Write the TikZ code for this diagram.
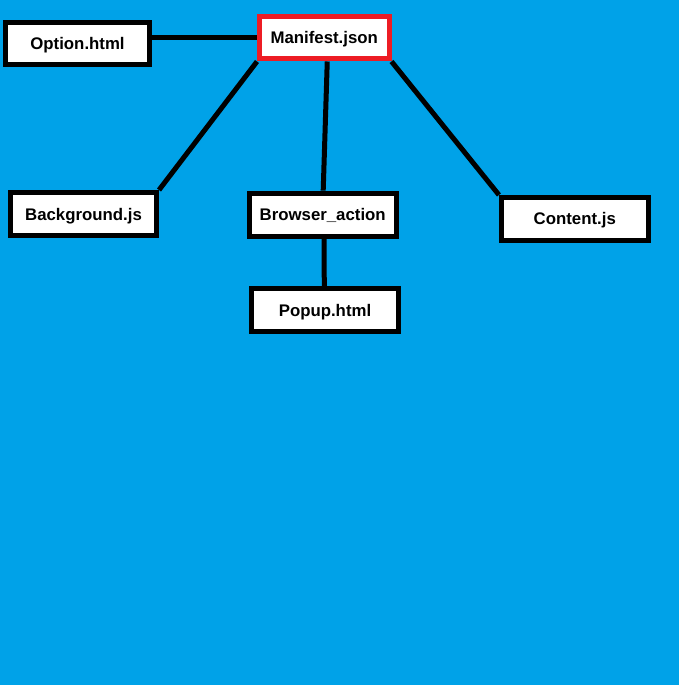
\documentclass[tikz,border=0pt]{standalone}
\usepackage{fontspec}
\setmainfont{Liberation Sans}
\usetikzlibrary{backgrounds}
\definecolor{bgblue}{HTML}{00A2E8}
\definecolor{paintred}{HTML}{ED1C24}
\tikzset{
  filebox/.style={draw=black, fill=white, line width=5pt, inner sep=0pt,
    text height=12pt, text depth=0pt,
    font=\fontsize{16.8}{18}\selectfont\bfseries},
  link/.style={draw=black, line width=5pt}
}
\begin{document}
\begin{tikzpicture}[x=1pt,y=-1pt]
\useasboundingbox (0,0) rectangle (679,685);
\node[filebox, minimum width=144pt, minimum height=42.5pt] (opt) at (77.5,43.75) {Option.html};
\node[filebox, draw=paintred, minimum width=129.5pt, minimum height=42.5pt] (man) at (324.25,37.75) {Manifest.json};
\node[filebox, minimum width=146pt, minimum height=43pt] (bg) at (83.5,214) {Background.js};
\node[filebox, minimum width=147pt, minimum height=43.3pt] (br) at (322.7,214.8) {Browser\_action};
\node[filebox, minimum width=147pt, minimum height=43pt] (pop) at (325,310) {Popup.html};
\node[filebox, minimum width=146.7pt, minimum height=42.7pt] (ct) at (574.8,218.8) {Content.js};
\begin{scope}[on background layer]
\fill[bgblue] (0,0) rectangle (679,685);
\draw[link] (opt.east |- man.west) -- (man.west);
\draw[link] (man.south west) -- (bg.north east);
\draw[link] ([xshift=3pt]man.south) -- ([xshift=0.5pt]br.north);
\draw[link] (man.south east) -- (ct.north west);
\draw[link] ([xshift=1.3pt]br.south) -- ([xshift=-0.7pt]pop.north);
\end{scope}
\end{tikzpicture}
\end{document}
